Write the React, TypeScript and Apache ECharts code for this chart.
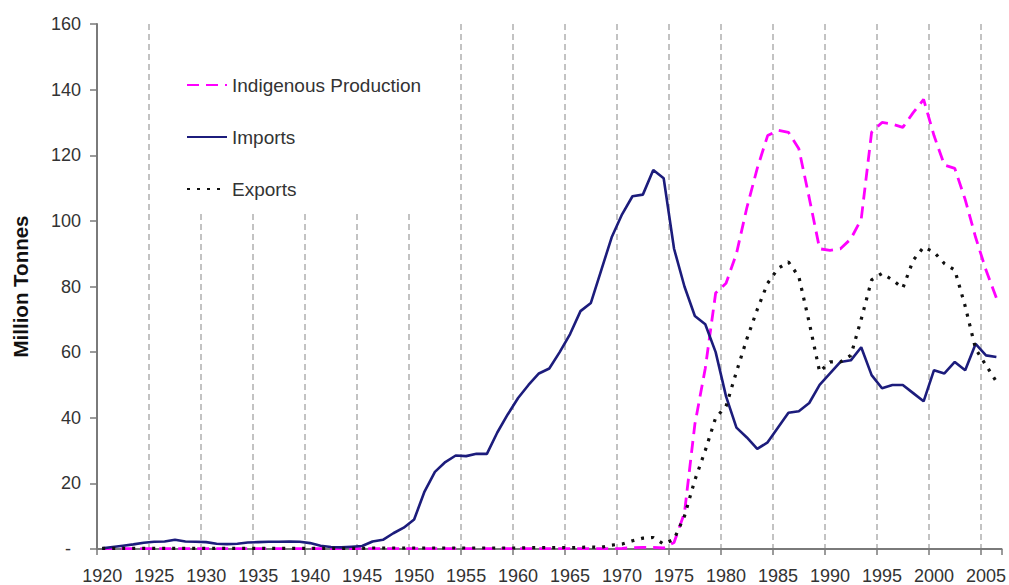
import React, { useEffect, useRef } from 'react';
import * as echarts from 'echarts';

const years: string[] = [
  '1920','1921','1922','1923','1924','1925','1926','1927','1928','1929',
  '1930','1931','1932','1933','1934','1935','1936','1937','1938','1939',
  '1940','1941','1942','1943','1944','1945','1946','1947','1948','1949',
  '1950','1951','1952','1953','1954','1955','1956','1957','1958','1959',
  '1960','1961','1962','1963','1964','1965','1966','1967','1968','1969',
  '1970','1971','1972','1973','1974','1975','1976','1977','1978','1979',
  '1980','1981','1982','1983','1984','1985','1986','1987','1988','1989',
  '1990','1991','1992','1993','1994','1995','1996','1997','1998','1999',
  '2000','2001','2002','2003','2004','2005','2006'
];

const production: number[] = [
  0.1,0.1,0.1,0.1,0.1,0.1,0.1,0.1,0.1,0.1,
  0.1,0.1,0.1,0.1,0.1,0.1,0.1,0.1,0.1,0.1,
  0.1,0.1,0.1,0.1,0.1,0.1,0.1,0.1,0.1,0.1,
  0.1,0.1,0.1,0.1,0.1,0.1,0.1,0.1,0.1,0.1,
  0.1,0.1,0.1,0.1,0.1,0.1,0.1,0.1,0.1,0.1,
  0.2,0.4,0.5,0.5,0.3,2,11,38,55,78,
  81,90,104,116,126,127.6,127,122,107,91.5,
  91,91.5,94.5,100.5,127,130,129.5,128.5,133,137,
  126,117,116,106.5,95,85,76.5
];

const imports: number[] = [
  0.2,0.6,1.0,1.4,1.9,2.2,2.3,2.8,2.3,2.2,
  2.1,1.6,1.5,1.6,2.0,2.1,2.2,2.2,2.3,2.2,
  1.8,1.0,0.6,0.5,0.7,0.9,2.3,2.8,4.8,6.5,
  9.0,17.5,23.5,26.5,28.5,28.3,29.0,29.0,35.5,41.0,
  46.0,50.0,53.5,55.0,60.0,65.5,72.5,75.0,85.0,95.0,
  102.0,107.5,108.0,115.5,113.0,91.5,80.0,71.0,68.5,60.0,
  46.5,37.0,34.0,30.5,32.5,37.0,41.5,42.0,44.5,50.0,
  53.5,57.0,57.5,61.5,53.0,49.0,50.0,50.0,47.5,45.0,
  54.5,53.5,57.0,54.5,62.5,59.0,58.5
];

const exportsData: number[] = [
  0.2,0.2,0.2,0.2,0.2,0.2,0.2,0.2,0.2,0.2,
  0.2,0.2,0.2,0.2,0.2,0.2,0.2,0.2,0.2,0.2,
  0.2,0.2,0.2,0.2,0.2,0.2,0.3,0.3,0.3,0.3,
  0.3,0.3,0.3,0.3,0.3,0.3,0.3,0.3,0.3,0.3,
  0.3,0.4,0.4,0.4,0.4,0.4,0.5,0.6,0.5,1.2,
  1.5,2.5,3.3,3.5,1.5,3,10,21,30,40,
  43.5,54,64,73,81,85.5,87.5,83,69,54,
  57,57,59,70,82,84,82,79.5,88,92,
  90.5,87,85,74,61,56,51
];

const yMin = 0;
const yMax = 160;
const yStep = 20;

const seriesNames = ['Indigenous Production', 'Imports', 'Exports'];
const yAxisTitle = 'Million Tonnes';

export default function App() {
  const ref = useRef<HTMLDivElement>(null);
  useEffect(() => {
    if (!ref.current) return;
    const chart = echarts.init(ref.current, undefined, { renderer: 'svg' });
    const font = 'Liberation Sans, Arial, sans-serif';
    chart.setOption({
      animation: false,
      backgroundColor: '#ffffff',
      textStyle: { fontFamily: font },
      grid: { left: 97, right: 6, top: 24, bottom: 36, containLabel: false },
      legend: {
        orient: 'vertical',
        left: 160,
        top: 24,
        padding: [51.5, 12, 12, 26],
        backgroundColor: '#ffffff',
        itemWidth: 40,
        itemHeight: 14,
        itemGap: 33,
        itemStyle: { opacity: 0, borderWidth: 0 },
        textStyle: { fontSize: 19, color: '#333', fontFamily: font },
        data: seriesNames,
      },
      xAxis: {
        type: 'category',
        data: years,
        boundaryGap: true,
        axisLine: { show: true, lineStyle: { color: '#7a7a7a', width: 2 } },
        axisTick: { show: true, interval: 4, length: 6, alignWithLabel: false, lineStyle: { color: '#7a7a7a', width: 1.5 } },
        axisLabel: { interval: 4, fontSize: 18, color: '#333', margin: 18, fontFamily: font },
        splitLine: { show: true, interval: 4, showMaxLine: false, lineStyle: { color: '#b0b0b0', width: 1.5, type: [6, 4] } },
      },
      yAxis: {
        type: 'value',
        min: yMin,
        max: yMax,
        interval: yStep,
        name: yAxisTitle,
        nameLocation: 'middle',
        nameGap: 66,
        nameTextStyle: { fontSize: 20.5, fontWeight: 'bold', color: '#111', fontFamily: font },
        axisLine: { show: true, lineStyle: { color: '#7a7a7a', width: 2 } },
        axisTick: { show: true, length: 7, lineStyle: { color: '#7a7a7a', width: 1.5 } },
        axisLabel: {
          fontSize: 18, color: '#333', margin: 16, fontFamily: font,
          formatter: (v: number) => (v === 0 ? '-  ' : String(v)),
        },
        splitLine: { show: false },
      },
      series: [
        {
          name: seriesNames[0], type: 'line', data: production, symbol: 'none', showSymbol: false,
          lineStyle: { color: '#ff00ff', width: 2.8, type: [12, 7] }, itemStyle: { color: '#ff00ff' },
        },
        {
          name: seriesNames[1], type: 'line', data: imports, symbol: 'none', showSymbol: false,
          lineStyle: { color: '#1c1c7c', width: 2.6, type: 'solid' }, itemStyle: { color: '#1c1c7c' },
        },
        {
          name: seriesNames[2], type: 'line', data: exportsData, symbol: 'none', showSymbol: false,
          lineStyle: { color: '#111', width: 3.2, type: [3, 7] }, itemStyle: { color: '#111' },
        },
      ],
    });
    return () => chart.dispose();
  }, []);
  return <div ref={ref} style={{ position: 'fixed', left: 0, top: 0, width: 1009, height: 585 }} />;
}
